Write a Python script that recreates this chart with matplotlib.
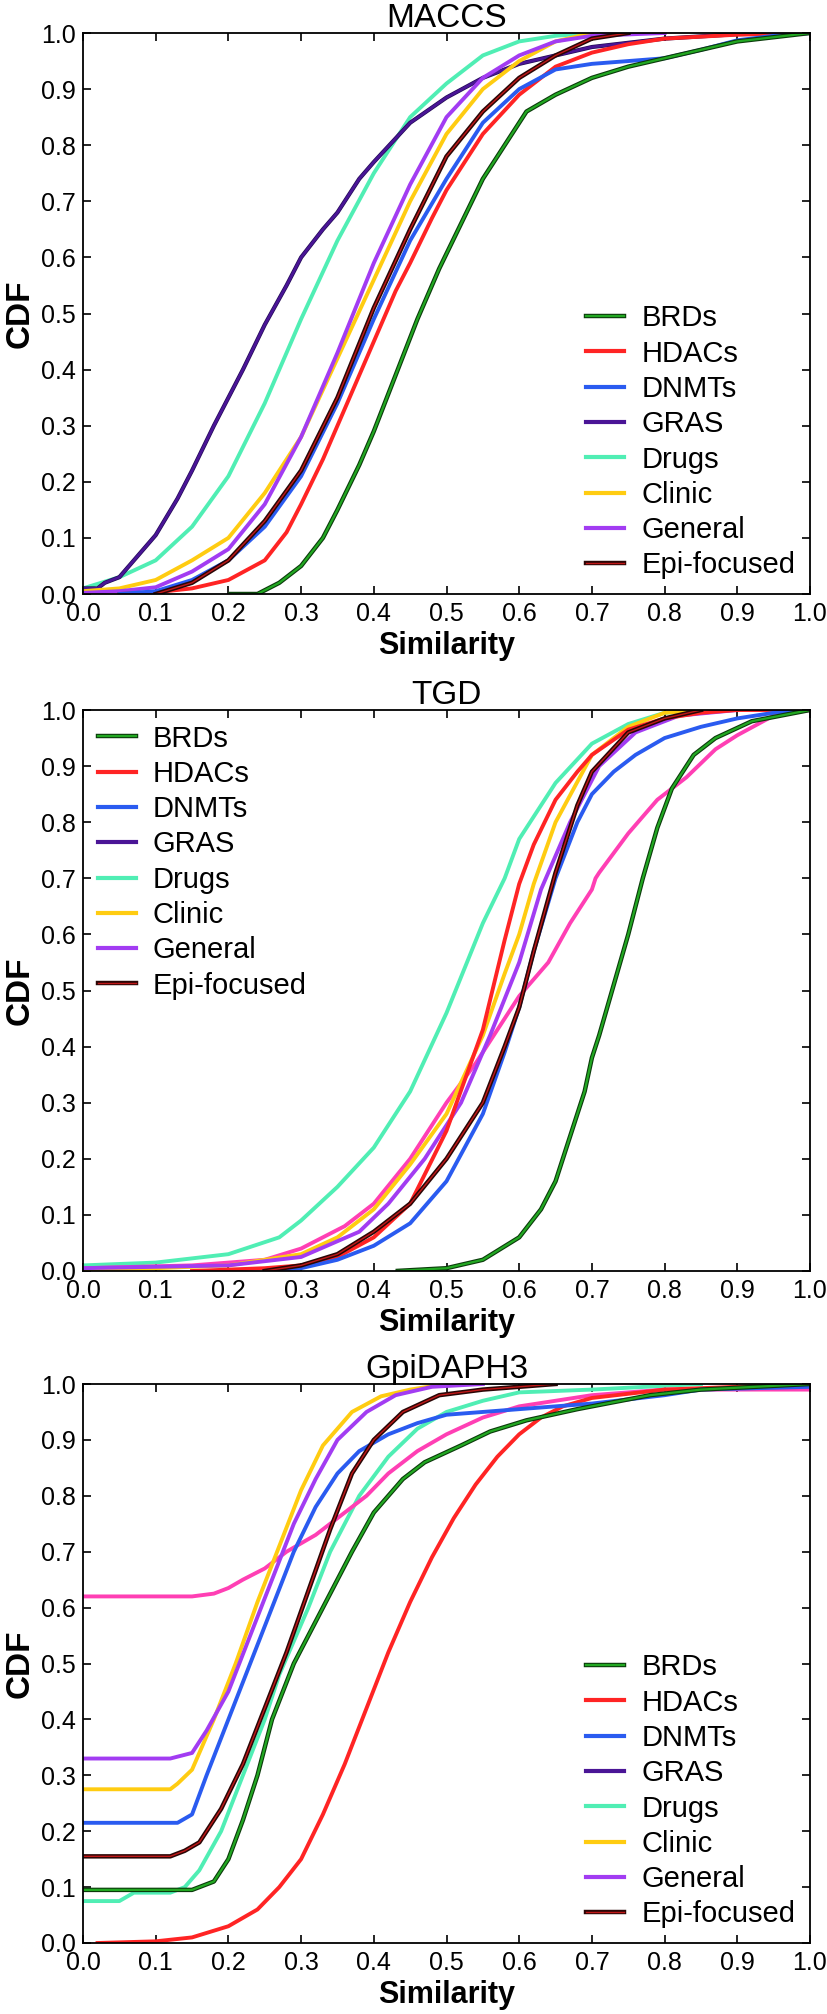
import numpy as np
import matplotlib
matplotlib.use('Agg')
import matplotlib.pyplot as plt
import matplotlib.patheffects as pe
from matplotlib.lines import Line2D

plt.rcParams['font.family'] = ['Liberation Sans', 'DejaVu Sans']

labels = ['BRDs', 'HDACs', 'DNMTs', 'GRAS', 'Drugs', 'Clinic', 'General', 'Epi-focused']
colors = ['#22a822', '#ff2424', '#2a5bf0', '#4a1596', '#50eeb4', '#ffcc11', '#a23cf2', '#3a0c0c']
gras_pink = '#ff3fb4'
ticks = [0.0, 0.1, 0.2, 0.3, 0.4, 0.5, 0.6, 0.7, 0.8, 0.9, 1.0]

# ---- MACCS ----
maccs_brds_x = [0.20, 0.24, 0.27, 0.30, 0.33, 0.35, 0.38, 0.40, 0.43, 0.46, 0.49, 0.52, 0.55, 0.58, 0.61, 0.65, 0.70, 0.75, 0.80, 0.85, 0.90, 1.0]
maccs_brds_y = [0.0, 0.0, 0.02, 0.05, 0.10, 0.15, 0.23, 0.29, 0.39, 0.49, 0.58, 0.66, 0.74, 0.80, 0.86, 0.89, 0.92, 0.94, 0.955, 0.97, 0.985, 1.0]
maccs_hdac_x = [0.05, 0.10, 0.15, 0.20, 0.25, 0.28, 0.30, 0.33, 0.36, 0.40, 0.43, 0.45, 0.48, 0.50, 0.55, 0.60, 0.65, 0.70, 0.75, 0.80, 0.90, 1.0]
maccs_hdac_y = [0.0, 0.003, 0.01, 0.025, 0.06, 0.11, 0.16, 0.24, 0.33, 0.45, 0.54, 0.59, 0.67, 0.72, 0.82, 0.89, 0.94, 0.965, 0.98, 0.99, 0.997, 1.0]
maccs_dnmt_x = [0.05, 0.10, 0.15, 0.20, 0.25, 0.30, 0.35, 0.40, 0.45, 0.50, 0.55, 0.60, 0.65, 0.70, 0.75, 0.80, 0.85, 0.90, 0.95, 1.0]
maccs_dnmt_y = [0.0, 0.005, 0.025, 0.06, 0.12, 0.21, 0.34, 0.49, 0.63, 0.74, 0.84, 0.90, 0.935, 0.945, 0.95, 0.955, 0.97, 0.987, 0.995, 1.0]
maccs_gras_x = [0.0, 0.02, 0.03, 0.05, 0.07, 0.10, 0.13, 0.15, 0.18, 0.20, 0.22, 0.25, 0.28, 0.30, 0.33, 0.35, 0.38, 0.40, 0.45, 0.50, 0.55, 0.60, 0.65, 0.70, 0.80, 0.90, 1.0]
maccs_gras_y = [0.01, 0.01, 0.02, 0.03, 0.06, 0.105, 0.17, 0.22, 0.30, 0.35, 0.40, 0.48, 0.55, 0.60, 0.65, 0.68, 0.74, 0.77, 0.84, 0.885, 0.92, 0.945, 0.96, 0.975, 0.99, 0.998, 1.0]
maccs_drug_x = [0.0, 0.05, 0.10, 0.15, 0.20, 0.25, 0.30, 0.35, 0.40, 0.45, 0.50, 0.55, 0.60, 0.65, 0.70]
maccs_drug_y = [0.01, 0.03, 0.06, 0.12, 0.21, 0.34, 0.49, 0.63, 0.75, 0.85, 0.91, 0.96, 0.985, 0.995, 1.0]
maccs_clin_x = [0.0, 0.05, 0.10, 0.15, 0.20, 0.25, 0.30, 0.35, 0.40, 0.45, 0.50, 0.55, 0.60, 0.65, 0.70]
maccs_clin_y = [0.005, 0.01, 0.025, 0.06, 0.10, 0.18, 0.28, 0.42, 0.56, 0.70, 0.82, 0.90, 0.95, 0.985, 1.0]
maccs_genr_x = [0.0, 0.05, 0.10, 0.15, 0.20, 0.25, 0.30, 0.35, 0.40, 0.45, 0.50, 0.55, 0.60, 0.65, 0.70, 0.80]
maccs_genr_y = [0.002, 0.005, 0.012, 0.04, 0.08, 0.16, 0.28, 0.43, 0.59, 0.73, 0.85, 0.92, 0.96, 0.985, 0.995, 1.0]
maccs_epi_x = [0.10, 0.15, 0.20, 0.25, 0.30, 0.35, 0.40, 0.45, 0.50, 0.55, 0.60, 0.65, 0.70, 0.75]
maccs_epi_y = [0.0, 0.02, 0.06, 0.13, 0.22, 0.35, 0.51, 0.65, 0.78, 0.86, 0.92, 0.96, 0.99, 1.0]

# ---- TGD ----
tgd_brds_x = [0.43, 0.50, 0.55, 0.60, 0.63, 0.65, 0.67, 0.69, 0.70, 0.71, 0.73, 0.75, 0.77, 0.79, 0.81, 0.84, 0.87, 0.92, 1.0]
tgd_brds_y = [0.0, 0.005, 0.02, 0.06, 0.11, 0.16, 0.24, 0.32, 0.38, 0.42, 0.51, 0.60, 0.70, 0.79, 0.86, 0.92, 0.95, 0.98, 1.0]
tgd_hdac_x = [0.15, 0.25, 0.30, 0.35, 0.40, 0.45, 0.50, 0.55, 0.58, 0.60, 0.62, 0.65, 0.68, 0.70, 0.75, 0.80, 0.85, 0.90, 1.0]
tgd_hdac_y = [0.0, 0.005, 0.01, 0.025, 0.06, 0.12, 0.25, 0.43, 0.59, 0.69, 0.76, 0.84, 0.89, 0.92, 0.965, 0.985, 0.995, 1.0, 1.0]
tgd_dnmt_x = [0.25, 0.30, 0.35, 0.40, 0.45, 0.50, 0.55, 0.58, 0.60, 0.62, 0.65, 0.68, 0.70, 0.73, 0.76, 0.80, 0.85, 0.90, 0.95, 1.0]
tgd_dnmt_y = [0.0, 0.005, 0.02, 0.045, 0.085, 0.16, 0.28, 0.39, 0.47, 0.57, 0.70, 0.80, 0.85, 0.89, 0.92, 0.95, 0.97, 0.985, 0.995, 1.0]
tgd_gras_x = [0.0, 0.15, 0.25, 0.30, 0.36, 0.40, 0.45, 0.50, 0.54, 0.58, 0.60, 0.64, 0.67, 0.70, 0.705, 0.71, 0.75, 0.79, 0.83, 0.87, 0.90, 0.95, 1.0]
tgd_gras_y = [0.005, 0.01, 0.02, 0.04, 0.08, 0.12, 0.20, 0.30, 0.37, 0.45, 0.49, 0.55, 0.62, 0.68, 0.70, 0.71, 0.78, 0.84, 0.88, 0.93, 0.955, 0.99, 1.0]
tgd_drug_x = [0.0, 0.10, 0.20, 0.27, 0.30, 0.35, 0.40, 0.45, 0.50, 0.55, 0.58, 0.60, 0.65, 0.70, 0.75, 0.80, 0.85]
tgd_drug_y = [0.01, 0.015, 0.03, 0.06, 0.09, 0.15, 0.22, 0.32, 0.46, 0.62, 0.70, 0.77, 0.87, 0.94, 0.975, 0.995, 1.0]
tgd_clin_x = [0.0, 0.10, 0.20, 0.30, 0.35, 0.40, 0.45, 0.50, 0.55, 0.58, 0.60, 0.62, 0.65, 0.70, 0.75, 0.80, 0.85]
tgd_clin_y = [0.002, 0.005, 0.01, 0.03, 0.06, 0.11, 0.19, 0.28, 0.42, 0.53, 0.60, 0.69, 0.80, 0.92, 0.97, 0.995, 1.0]
tgd_genr_x = [0.0, 0.20, 0.30, 0.38, 0.42, 0.47, 0.52, 0.56, 0.60, 0.63, 0.67, 0.71, 0.76, 0.82, 0.90]
tgd_genr_y = [0.005, 0.01, 0.025, 0.07, 0.12, 0.20, 0.30, 0.42, 0.55, 0.68, 0.80, 0.90, 0.96, 0.99, 1.0]
tgd_epi_x = [0.25, 0.30, 0.35, 0.40, 0.45, 0.50, 0.55, 0.58, 0.60, 0.62, 0.65, 0.68, 0.70, 0.75, 0.80, 0.85]
tgd_epi_y = [0.0, 0.01, 0.03, 0.07, 0.12, 0.20, 0.30, 0.40, 0.47, 0.57, 0.71, 0.83, 0.89, 0.96, 0.985, 1.0]

# ---- GpiDAPH3 ----
gpi_brds_x = [0.0, 0.15, 0.16, 0.18, 0.20, 0.22, 0.24, 0.26, 0.29, 0.33, 0.37, 0.40, 0.44, 0.47, 0.52, 0.56, 0.61, 0.68, 0.72, 0.78, 0.85, 1.0]
gpi_brds_y = [0.095, 0.095, 0.10, 0.11, 0.15, 0.22, 0.30, 0.40, 0.50, 0.60, 0.70, 0.77, 0.83, 0.86, 0.89, 0.915, 0.935, 0.955, 0.965, 0.98, 0.99, 1.0]
gpi_hdac_x = [0.02, 0.10, 0.15, 0.20, 0.24, 0.27, 0.30, 0.33, 0.36, 0.39, 0.42, 0.45, 0.48, 0.51, 0.54, 0.57, 0.60, 0.63, 0.66, 0.70, 0.80, 1.0]
gpi_hdac_y = [0.0, 0.003, 0.01, 0.03, 0.06, 0.10, 0.15, 0.23, 0.32, 0.42, 0.52, 0.61, 0.69, 0.76, 0.82, 0.87, 0.91, 0.94, 0.96, 0.975, 0.99, 1.0]
gpi_dnmt_x = [0.0, 0.13, 0.15, 0.17, 0.20, 0.23, 0.26, 0.29, 0.32, 0.35, 0.38, 0.42, 0.46, 0.50, 0.60, 0.70, 0.80, 0.85, 1.0]
gpi_dnmt_y = [0.215, 0.215, 0.23, 0.30, 0.40, 0.50, 0.60, 0.70, 0.78, 0.84, 0.88, 0.91, 0.93, 0.945, 0.955, 0.965, 0.98, 0.99, 0.995]
gpi_gras_x = [0.0, 0.15, 0.18, 0.20, 0.22, 0.25, 0.28, 0.32, 0.36, 0.39, 0.42, 0.46, 0.50, 0.55, 0.60, 0.65, 0.70, 0.80, 1.0]
gpi_gras_y = [0.62, 0.62, 0.625, 0.635, 0.65, 0.67, 0.70, 0.73, 0.77, 0.80, 0.84, 0.88, 0.91, 0.94, 0.96, 0.97, 0.98, 0.99, 0.99]
gpi_drug_x = [0.0, 0.05, 0.07, 0.12, 0.14, 0.16, 0.19, 0.22, 0.25, 0.27, 0.31, 0.34, 0.38, 0.42, 0.46, 0.50, 0.55, 0.60, 0.70, 0.85]
gpi_drug_y = [0.075, 0.075, 0.09, 0.09, 0.10, 0.13, 0.20, 0.30, 0.40, 0.48, 0.60, 0.70, 0.80, 0.87, 0.92, 0.95, 0.97, 0.985, 0.99, 1.0]
gpi_clin_x = [0.0, 0.12, 0.13, 0.15, 0.18, 0.21, 0.24, 0.27, 0.30, 0.33, 0.37, 0.41, 0.45, 0.50]
gpi_clin_y = [0.275, 0.275, 0.285, 0.31, 0.40, 0.50, 0.61, 0.71, 0.81, 0.89, 0.95, 0.978, 0.99, 1.0]
gpi_genr_x = [0.0, 0.12, 0.15, 0.17, 0.20, 0.23, 0.26, 0.29, 0.32, 0.35, 0.39, 0.43, 0.48, 0.55]
gpi_genr_y = [0.33, 0.33, 0.34, 0.38, 0.45, 0.55, 0.65, 0.75, 0.83, 0.90, 0.95, 0.98, 0.995, 1.0]
gpi_epi_x = [0.0, 0.12, 0.14, 0.16, 0.19, 0.22, 0.25, 0.28, 0.31, 0.34, 0.37, 0.40, 0.44, 0.49, 0.55, 0.65]
gpi_epi_y = [0.155, 0.155, 0.165, 0.18, 0.24, 0.32, 0.42, 0.52, 0.63, 0.74, 0.84, 0.90, 0.95, 0.98, 0.99, 1.0]

panels = [
    ('MACCS', [(maccs_brds_x, maccs_brds_y), (maccs_hdac_x, maccs_hdac_y), (maccs_dnmt_x, maccs_dnmt_y),
               (maccs_gras_x, maccs_gras_y), (maccs_drug_x, maccs_drug_y), (maccs_clin_x, maccs_clin_y),
               (maccs_genr_x, maccs_genr_y), (maccs_epi_x, maccs_epi_y)], 'lower right', False),
    ('TGD', [(tgd_brds_x, tgd_brds_y), (tgd_hdac_x, tgd_hdac_y), (tgd_dnmt_x, tgd_dnmt_y),
             (tgd_gras_x, tgd_gras_y), (tgd_drug_x, tgd_drug_y), (tgd_clin_x, tgd_clin_y),
             (tgd_genr_x, tgd_genr_y), (tgd_epi_x, tgd_epi_y)], 'upper left', True),
    ('GpiDAPH3', [(gpi_brds_x, gpi_brds_y), (gpi_hdac_x, gpi_hdac_y), (gpi_dnmt_x, gpi_dnmt_y),
                  (gpi_gras_x, gpi_gras_y), (gpi_drug_x, gpi_drug_y), (gpi_clin_x, gpi_clin_y),
                  (gpi_genr_x, gpi_genr_y), (gpi_epi_x, gpi_epi_y)], 'lower right', True),
]

# axes boxes in figure pixels (top, bottom)
boxes = [(33, 594), (710, 1271), (1384, 1943)]
W, H = 827, 2014

fig = plt.figure(figsize=(W / 100, H / 100), dpi=100)

# draw order: which ones end up on top
order = [4, 3, 5, 6, 1, 2, 0, 7]

for (title, curves, loc, pink_gras), (top, bot) in zip(panels, boxes):
    ax = fig.add_axes([83 / W, 1 - bot / H, 727 / W, (bot - top) / H])
    for i in order:
        x, y = curves[i]
        c = colors[i]
        if i == 3 and pink_gras:
            c = gras_pink
        if i == 0:
            ax.plot(x, y, color=c, lw=1.6, solid_capstyle='butt',
                    path_effects=[pe.Stroke(linewidth=3.2, foreground='#0b3b0b'), pe.Normal()])
        elif i == 7:
            ax.plot(x, y, color='#c01818', lw=1.0,
                    path_effects=[pe.Stroke(linewidth=3.2, foreground='#2a0606'), pe.Normal()])
        elif i == 3 and not pink_gras:
            ax.plot(x, y, color=c, lw=2.0,
                    path_effects=[pe.Stroke(linewidth=3.0, foreground='#220a55'), pe.Normal()])
        else:
            ax.plot(x, y, color=c, lw=2.8)

    ax.set_xlim(0, 1)
    ax.set_ylim(0, 1)
    ax.set_xticks(ticks)
    ax.set_yticks(ticks)
    ax.set_xticklabels(['%.1f' % t for t in ticks])
    ax.set_yticklabels(['%.1f' % t for t in ticks])
    ax.tick_params(direction='in', top=True, right=True, length=6, width=1.2,
                   labelsize=18)
    ax.tick_params(axis='x', pad=6)
    ax.tick_params(axis='y', pad=5)
    for s in ax.spines.values():
        s.set_linewidth(1.3)
    ax.set_title(title, fontsize=24, pad=4)
    ax.set_xlabel('Similarity', fontsize=22, fontweight='bold', labelpad=3)
    ax.set_ylabel('CDF', fontsize=24, fontweight='bold', labelpad=4)

    handles = []
    for i in range(8):
        if i == 0:
            h = Line2D([], [], color=colors[0], lw=1.6,
                       path_effects=[pe.Stroke(linewidth=3.2, foreground='#0b3b0b'), pe.Normal()])
        elif i == 7:
            h = Line2D([], [], color='#c01818', lw=1.0,
                       path_effects=[pe.Stroke(linewidth=3.2, foreground='#2a0606'), pe.Normal()])
        else:
            h = Line2D([], [], color=colors[i], lw=3)
        handles.append(h)
    ax.legend(handles, labels, loc=loc, frameon=False, fontsize=21,
              handlelength=1.3, handletextpad=0.6, labelspacing=0.25,
              borderpad=0.2, borderaxespad=0.3)

fig.savefig('out.png', dpi=100)
